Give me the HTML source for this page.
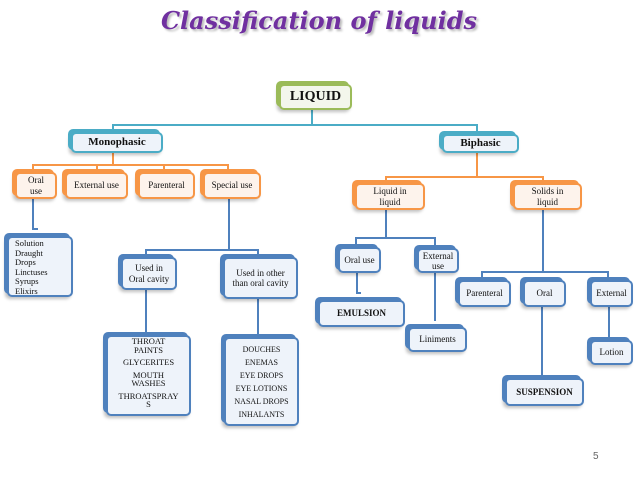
<!DOCTYPE html>
<html><head><meta charset="utf-8"><style>
body{margin:0;width:638px;height:479px;background:#fff;position:relative;overflow:hidden;font-family:"Liberation Serif",serif;}
.b{position:absolute;box-sizing:border-box;border:2px solid #4f81bd;border-radius:5px;background:#eef3fa;box-shadow:-3px -3px 0 0 #4f81bd,-2px 2px 3px rgba(0,0,0,.25);display:flex;align-items:center;justify-content:center;text-align:center;font-size:9px;line-height:1.15;color:#111;}
.o{border-color:#f79646;box-shadow:-3px -3px 0 0 #f79646,-2px 2px 3px rgba(0,0,0,.25);background:#fdf3ec;}
.t{border-color:#4bacc6;box-shadow:-3px -3px 0 0 #4bacc6,-2px 2px 3px rgba(0,0,0,.25);}
.g{border-color:#9bbb59;box-shadow:-3px -3px 0 0 #9bbb59,-2px 2px 3px rgba(0,0,0,.25);background:#f3f6ec;}
.l{position:absolute;background:#4f81bd;}
.lt{background:#4bacc6}.lo{background:#f79646}
</style></head><body>
<div style="position:absolute;left:0;width:638px;top:6px;text-align:center;font-family:'DejaVu Serif',serif;font-style:italic;font-weight:bold;font-size:24px;color:#7030a0;text-shadow:2px 2px 2px #bbb;">Classification of liquids</div>

<div class="l lt" style="left:311px;top:110px;width:2px;height:16px"></div>
<div class="l lt" style="left:112px;top:124px;width:366px;height:2px"></div>
<div class="l lt" style="left:112px;top:124px;width:2px;height:8px"></div>
<div class="l lt" style="left:476px;top:124px;width:2px;height:10px"></div>
<div class="l lo" style="left:112px;top:152px;width:2px;height:14px"></div>
<div class="l lo" style="left:32px;top:164px;width:197px;height:2px"></div>
<div class="l lo" style="left:32px;top:164px;width:2px;height:8px"></div>
<div class="l lo" style="left:96px;top:164px;width:2px;height:8px"></div>
<div class="l lo" style="left:163px;top:164px;width:2px;height:8px"></div>
<div class="l lo" style="left:227px;top:164px;width:2px;height:8px"></div>
<div class="l lo" style="left:476px;top:152px;width:2px;height:26px"></div>
<div class="l lo" style="left:385px;top:176px;width:159px;height:2px"></div>
<div class="l lo" style="left:385px;top:176px;width:2px;height:7px"></div>
<div class="l lo" style="left:542px;top:176px;width:2px;height:7px"></div>

<div class="l" style="left:32px;top:199px;width:2px;height:30px"></div>
<div class="l" style="left:32px;top:228px;width:6px;height:2px"></div>
<div class="l" style="left:228px;top:199px;width:2px;height:52px"></div>
<div class="l" style="left:145px;top:249px;width:113px;height:2px"></div>
<div class="l" style="left:145px;top:249px;width:2px;height:8px"></div>
<div class="l" style="left:257px;top:249px;width:2px;height:8px"></div>
<div class="l" style="left:145px;top:290px;width:2px;height:45px"></div>
<div class="l" style="left:257px;top:299px;width:2px;height:37px"></div>

<div class="l" style="left:385px;top:210px;width:2px;height:28px"></div>
<div class="l" style="left:355px;top:237px;width:81px;height:2px"></div>
<div class="l" style="left:355px;top:237px;width:2px;height:10px"></div>
<div class="l" style="left:434px;top:237px;width:2px;height:10px"></div>
<div class="l" style="left:356px;top:273px;width:2px;height:21px"></div>
<div class="l" style="left:356px;top:292px;width:5px;height:2px"></div>
<div class="l" style="left:434px;top:273px;width:2px;height:48px"></div>
<div class="l" style="left:542px;top:210px;width:2px;height:63px"></div>
<div class="l" style="left:481px;top:271px;width:128px;height:2px"></div>
<div class="l" style="left:481px;top:271px;width:2px;height:9px"></div>
<div class="l" style="left:607px;top:271px;width:2px;height:9px"></div>
<div class="l" style="left:541px;top:307px;width:2px;height:71px"></div>
<div class="l" style="left:608px;top:307px;width:2px;height:33px"></div>

<div class="b g" style="left:279px;top:84px;width:73px;height:26px;font-size:14px;font-weight:bold">LIQUID</div>
<div class="b t" style="left:71px;top:132px;width:92px;height:21px;font-size:11px;font-weight:bold">Monophasic</div>
<div class="b t" style="left:442px;top:134px;width:77px;height:19px;font-size:11px;font-weight:bold">Biphasic</div>

<div class="b o" style="left:15px;top:172px;width:42px;height:27px">Oral<br>use</div>
<div class="b o" style="left:65px;top:172px;width:63px;height:27px">External use</div>
<div class="b o" style="left:138px;top:172px;width:57px;height:27px">Parenteral</div>
<div class="b o" style="left:203px;top:172px;width:58px;height:27px">Special use</div>
<div class="b o" style="left:355px;top:183px;width:70px;height:27px">Liquid in<br>liquid</div>
<div class="b o" style="left:513px;top:183px;width:69px;height:27px">Solids in<br>liquid</div>

<div class="b" style="left:7px;top:236px;width:66px;height:61px;justify-content:flex-start;align-items:flex-start;text-align:left;padding:1px 0 0 6px;line-height:9.5px;font-size:8.5px">Solution<br>Draught<br>Drops<br>Linctuses<br>Syrups<br>Elixirs</div>
<div class="b" style="left:121px;top:257px;width:56px;height:33px">Used in<br>Oral cavity</div>
<div class="b" style="left:223px;top:257px;width:75px;height:42px">Used in other<br>than oral cavity</div>
<div class="b" style="left:106px;top:335px;width:85px;height:81px;line-height:8.5px;font-size:8.5px;flex-direction:column;justify-content:flex-start;padding-top:0">
<div>THROAT<br>PAINTS</div><div style="margin-top:4px">GLYCERITES</div><div style="margin-top:4px">MOUTH<br>WASHES</div><div style="margin-top:4px">THROATSPRAY<br>S</div></div>
<div class="b" style="left:224px;top:337px;width:75px;height:89px;font-size:8px;line-height:13px">DOUCHES<br>ENEMAS<br>EYE DROPS<br>EYE LOTIONS<br>NASAL DROPS<br>INHALANTS</div>

<div class="b" style="left:338px;top:247px;width:43px;height:26px">Oral use</div>
<div class="b" style="left:417px;top:248px;width:42px;height:25px;line-height:10px">External<br>use</div>
<div class="b" style="left:318px;top:300px;width:87px;height:27px;font-weight:bold">EMULSION</div>
<div class="b" style="left:408px;top:327px;width:59px;height:25px">Liniments</div>
<div class="b" style="left:458px;top:280px;width:53px;height:27px">Parenteral</div>
<div class="b" style="left:523px;top:280px;width:43px;height:27px">Oral</div>
<div class="b" style="left:590px;top:280px;width:43px;height:27px">External</div>
<div class="b" style="left:505px;top:378px;width:79px;height:28px;font-weight:bold">SUSPENSION</div>
<div class="b" style="left:590px;top:340px;width:43px;height:25px">Lotion</div>

<div style="position:absolute;left:593px;top:451px;font-size:10px;color:#666;font-family:'Liberation Sans',sans-serif">5</div>
</body></html>
